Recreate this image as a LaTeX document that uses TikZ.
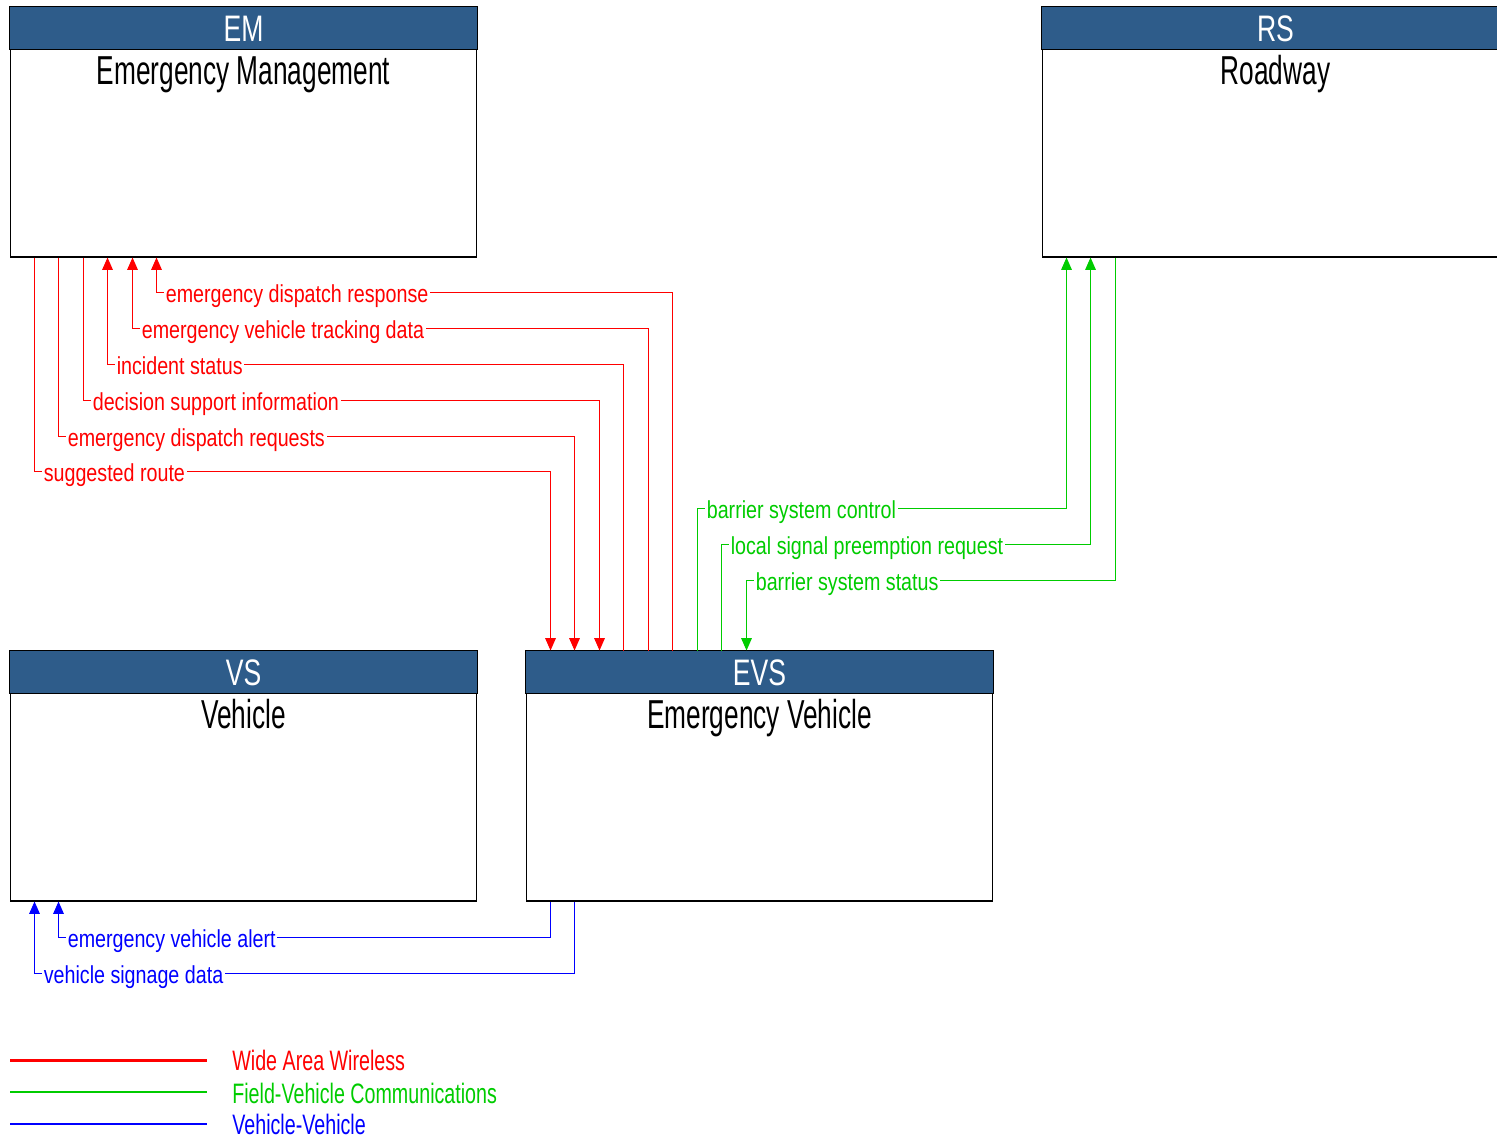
\documentclass[tikz,border=0pt]{standalone}
\usepackage{fontspec}
\setmainfont[FakeStretch=0.8]{Liberation Sans}
\newfontfamily\titlefont[FakeStretch=0.65]{Liberation Sans}
\newfontfamily\hdrfont[FakeStretch=0.72]{Liberation Sans}
\newfontfamily\legfont[FakeStretch=0.7]{Liberation Sans}
\usetikzlibrary{arrows.meta,calc,positioning}
\definecolor{hdrblue}{RGB}{46,92,138}
\definecolor{wawred}{RGB}{255,0,0}
\definecolor{fvcgreen}{RGB}{0,204,0}
\definecolor{vvblue}{RGB}{0,0,255}
\tikzset{
  sysbox/.style={draw=black, line width=0.6pt, minimum width=9.34cm, minimum height=5cm, inner sep=0pt},
  hdrband/.style={fill=hdrblue, draw=black, line width=0.6pt},
  hdrtext/.style={text=white, inner sep=0pt, anchor=base, font=\hdrfont\fontsize{21}{24}\selectfont},
  titletext/.style={text=black, inner sep=0pt, anchor=base, font=\titlefont\fontsize{23}{26}\selectfont},
  flowlbl/.style={fill=white, inner xsep=1pt, inner ysep=0pt, anchor=base west, xshift=4pt, yshift=-5.6pt, font=\fontsize{14}{16}\selectfont},
  tip/.style={>={Triangle[width=6pt,length=7pt]}},
  waw/.style={draw=wawred, text=wawred, line width=0.6pt, tip},
  fvc/.style={draw=fvcgreen, text=fvcgreen, line width=0.6pt, tip},
  vv/.style={draw=vvblue, text=vvblue, line width=0.6pt, tip},
  legtext/.style={anchor=base west, inner sep=0pt, font=\legfont\fontsize{16}{18}\selectfont}
}
\begin{document}
\begin{tikzpicture}[x=0.02cm, y=-0.02cm]
\useasboundingbox (0,0) rectangle (1497,1139);

% system boxes
\node[sysbox] (em) at (243.5,132) {};
\node[sysbox] (rs) at (1275.5,132) {};
\node[sysbox] (vs) at (243.5,776) {};
\node[sysbox] (evs) at (759.5,776) {};

\foreach \b/\s/\t in {em/EM/Emergency Management, rs/RS/Roadway, vs/VS/Vehicle, evs/EVS/Emergency Vehicle}{
  \draw[hdrband] (\b.north west) rectangle ($(\b.north east)+(0,43)$);
  \node[hdrtext] (\b hdr) at ($(\b.north)+(0,35)$) {\s};
  \node[titletext] (\b name) at ($(\b.north)+(0,78)$) {\t};
}

% Wide Area Wireless flows
\draw[waw,<-] ($(em.south west)+(147,0)$) |- node[flowlbl] (edresp) {emergency dispatch response} ($(evs.north west)+(147,-358)$) -- ($(evs.north west)+(147,0)$);
\draw[waw,<-] ($(em.south west)+(123,0)$) |- node[flowlbl] (evtrack) {emergency vehicle tracking data} ($(evs.north west)+(123,-322)$) -- ($(evs.north west)+(123,0)$);
\draw[waw,<-] ($(em.south west)+(98,0)$) |- node[flowlbl] (incstat) {incident status} ($(evs.north west)+(98,-286)$) -- ($(evs.north west)+(98,0)$);
\draw[waw,->] ($(em.south west)+(74,0)$) |- node[flowlbl] (dsinfo) {decision support information} ($(evs.north west)+(74,-250)$) -- ($(evs.north west)+(74,0)$);
\draw[waw,->] ($(em.south west)+(49,0)$) |- node[flowlbl] (edreq) {emergency dispatch requests} ($(evs.north west)+(49,-214)$) -- ($(evs.north west)+(49,0)$);
\draw[waw,->] ($(em.south west)+(25,0)$) |- node[flowlbl] (sroute) {suggested route} ($(evs.north west)+(25,-179)$) -- ($(evs.north west)+(25,0)$);

% Field-Vehicle Communications flows
\draw[fvc,->] ($(evs.north west)+(172,0)$) |- node[flowlbl] (bsctl) {barrier system control} ($(rs.south west)+(25,251)$) -- ($(rs.south west)+(25,0)$);
\draw[fvc,->] ($(evs.north west)+(196,0)$) |- node[flowlbl] (lspreq) {local signal preemption request} ($(rs.south west)+(49,287)$) -- ($(rs.south west)+(49,0)$);
\draw[fvc,<-] ($(evs.north west)+(221,0)$) |- node[flowlbl] (bsstat) {barrier system status} ($(rs.south west)+(74,323)$) -- ($(rs.south west)+(74,0)$);

% Vehicle-Vehicle flows
\draw[vv,<-] ($(vs.south west)+(49,0)$) |- node[flowlbl] (evalert) {emergency vehicle alert} ($(evs.south west)+(25,36)$) -- ($(evs.south west)+(25,0)$);
\draw[vv,<-] ($(vs.south west)+(25,0)$) |- node[flowlbl] (vsign) {vehicle signage data} ($(evs.south west)+(49,72)$) -- ($(evs.south west)+(49,0)$);

% legend
\coordinate (leg1) at (10,1060);
\coordinate (leg2) at (10,1092);
\coordinate (leg3) at (10,1124);
\draw[wawred, line width=1.7pt] (leg1) -- ++(197,0);
\draw[fvcgreen, line width=0.6pt] (leg2) -- ++(197,0);
\draw[vvblue, line width=0.6pt] (leg3) -- ++(197,0);
\node[legtext, text=wawred] (legwaw) at (232,1070) {Wide Area Wireless};
\node[legtext, text=fvcgreen] (legfvc) at (232,1103) {Field-Vehicle Communications};
\node[legtext, text=vvblue] (legvv) at (232,1134) {Vehicle-Vehicle};
\end{tikzpicture}
\end{document}
